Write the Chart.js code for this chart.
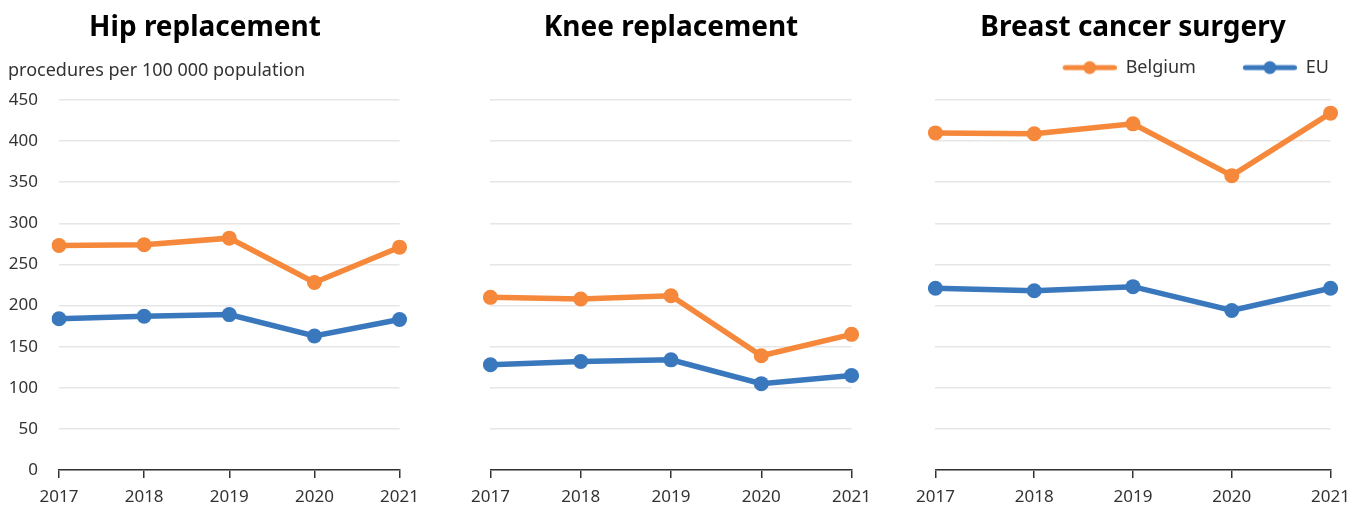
<!DOCTYPE html>
<html>
<head>
<meta charset="utf-8">
<script src="https://cdn.jsdelivr.net/npm/chart.js@4.4.0/dist/chart.umd.min.js"></script>
<style>
  body { margin: 0; background: #fff; width: 1369px; height: 506px; overflow: hidden; position: relative; }
  .panel { position: absolute; top: 0; height: 506px; }
</style>
</head>
<body>
<div class="panel" style="left:0;width:428px"><canvas id="hip"></canvas></div>
<div class="panel" style="left:462px;width:418px"><canvas id="knee"></canvas></div>
<div class="panel" style="left:907px;width:452px"><canvas id="breast"></canvas></div>
<script>
const years = ["2017", "2018", "2019", "2020", "2021"];
const hipBelgium = [273, 274, 282, 228, 271];
const hipEU = [184, 187, 189, 163, 183];
const kneeBelgium = [210, 208, 212, 139, 165];
const kneeEU = [128, 132, 134, 105, 115];
const breastBelgium = [410, 409, 421, 358, 434];
const breastEU = [221, 218, 223, 194, 221];
const seriesNames = ["Belgium", "EU"];
const yMin = 0, yMax = 450, yStep = 50;

const ORANGE = "#F5883A";
const BLUE = "#3A78BE";
const FONT = "'Noto Sans', 'Open Sans', sans-serif";
const TEXT = "#333333";

// legend marker: line with a dot, left part left empty for spacing
function legendIcon(color) {
  const c = document.createElement("canvas");
  c.width = 97;
  c.height = 16;
  const g = c.getContext("2d");
  g.strokeStyle = color;
  g.lineWidth = 5;
  g.lineCap = "round";
  g.beginPath();
  g.moveTo(45.5, 8);
  g.lineTo(94.5, 8);
  g.stroke();
  g.fillStyle = color;
  g.beginPath();
  g.arc(70, 8, 6.5, 0, Math.PI * 2);
  g.fill();
  return c;
}
const icons = [legendIcon(ORANGE), legendIcon(BLUE)];

function makePanel(id, title, belgium, eu, kind) {
  const first = kind === "first";
  const last = kind === "last";
  const scales = {
    x: {
      grid: { display: true, drawOnChartArea: false, drawTicks: true, tickLength: 8, color: TEXT, lineWidth: 1.5 },
      border: { display: true, color: TEXT, width: 1.5 },
      ticks: { color: TEXT, font: { family: FONT, size: 17 }, padding: 9, maxRotation: 0 },
      afterFit: (a) => { a.height = 36; }
    },
    y: {
      min: yMin,
      max: yMax,
      ticks: { display: first, stepSize: yStep, color: TEXT, font: { family: FONT, size: 17 }, padding: 21 },
      grid: { color: "#e6e6e6", lineWidth: 1.5, drawTicks: false },
      border: { display: false },
      afterFit: (a) => { a.width = first ? 51 : 0; }
    }
  };
  if (last) {
    scales.xTop = {
      type: "category",
      position: "top",
      grid: { display: false },
      border: { display: false },
      ticks: { display: false },
      afterFit: (a) => { a.height = 13.4; }
    };
  }
  new Chart(document.getElementById(id), {
    type: "line",
    data: {
      labels: years,
      datasets: [
        { label: seriesNames[0], data: belgium, borderColor: ORANGE, backgroundColor: ORANGE },
        { label: seriesNames[1], data: eu, borderColor: BLUE, backgroundColor: BLUE }
      ]
    },
    options: {
      responsive: true,
      maintainAspectRatio: false,
      animation: false,
      events: [],
      elements: {
        line: { borderWidth: 5.5, tension: 0 },
        point: { radius: 7.5, borderWidth: 0 }
      },
      layout: { padding: { left: first ? 8 : 26, right: 26, top: 0, bottom: 0 } },
      scales: scales,
      plugins: {
        title: {
          display: true,
          text: title,
          color: "#000",
          font: { family: FONT, size: 28, weight: "bold" },
          padding: { top: 11, bottom: 10 }
        },
        subtitle: {
          display: !last,
          text: first ? "procedures per 100 000 population" : " ",
          align: "start",
          color: TEXT,
          font: { family: FONT, size: 18 },
          padding: { top: 5.1, bottom: 18.7 }
        },
        legend: {
          display: last,
          align: "end",
          labels: {
            usePointStyle: true,
            pointStyleWidth: 97,
            padding: 4,
            color: TEXT,
            font: { family: FONT, size: 18 },
            generateLabels: (chart) => {
              const items = Chart.defaults.plugins.legend.labels.generateLabels(chart);
              items.forEach((it, i) => { it.pointStyle = icons[i]; });
              return items;
            }
          }
        },
        tooltip: { enabled: false }
      }
    }
  });
}

makePanel("hip", "Hip replacement", hipBelgium, hipEU, "first");
makePanel("knee", "Knee replacement", kneeBelgium, kneeEU, "mid");
makePanel("breast", "Breast cancer surgery", breastBelgium, breastEU, "last");
</script>
</body>
</html>
